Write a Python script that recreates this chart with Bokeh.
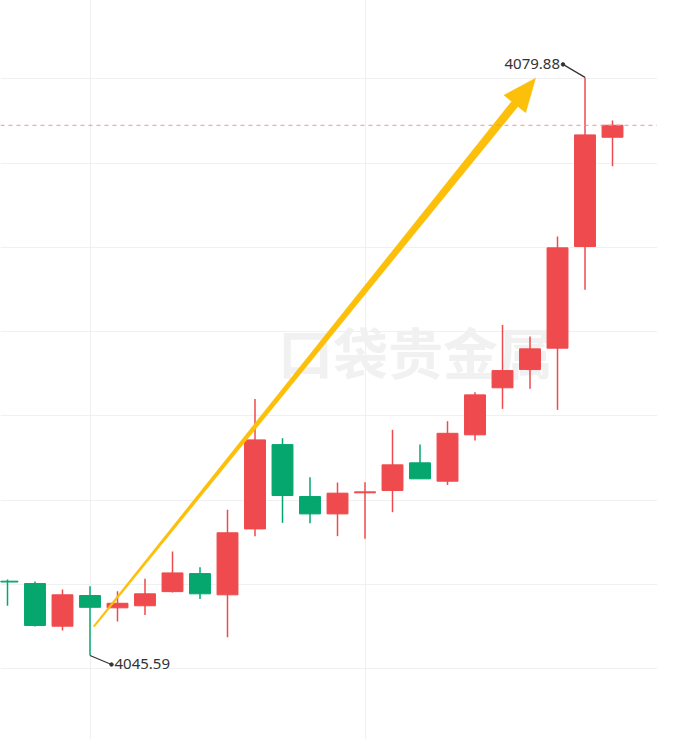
import math
from bokeh.plotting import figure
from bokeh.models import Range1d, FixedTicker, Span, ColumnDataSource
from bokeh.core.properties import value
from bokeh.embed import file_html
from bokeh.resources import INLINE

# ---- data ----
opens = [4050.00, 4049.86, 4047.33, 4049.15, 4048.42, 4048.54, 4049.38, 4050.45, 4049.19, 4053.10, 4058.10, 4055.02,
         4053.99, 4055.24, 4055.38, 4057.02, 4055.93, 4058.68, 4061.47, 4062.55, 4063.82, 4069.85, 4076.33]
closes = [4049.95, 4047.37, 4049.19, 4048.45, 4048.69, 4049.25, 4050.49, 4049.25, 4052.87, 4058.38, 4055.08, 4053.99,
          4055.22, 4055.30, 4056.90, 4056.07, 4058.77, 4061.05, 4062.49, 4063.78, 4069.77, 4076.47, 4077.04]
highs = [4050.10, 4049.98, 4049.50, 4049.70, 4049.40, 4050.14, 4051.76, 4050.83, 4054.23, 4060.81, 4058.48, 4056.16,
         4055.85, 4055.87, 4058.98, 4058.10, 4059.49, 4061.21, 4065.20, 4064.51, 4070.44, 4079.88, 4077.32]
lows = [4048.55, 4047.31, 4047.07, 4045.59, 4047.61, 4048.00, 4049.33, 4048.95, 4046.67, 4052.67, 4053.46, 4053.44,
        4052.67, 4052.51, 4054.09, 4056.07, 4055.71, 4058.34, 4060.22, 4061.41, 4060.16, 4067.28, 4074.61]
grid_levels = [4044.8, 4049.8, 4054.8, 4059.8, 4064.8, 4069.8, 4074.8, 4079.8]
vgrid_levels = [3, 13]
high_label = "4079.88"
low_label = "4045.59"
high_idx = 21
low_idx = 3
arrow_start = (3.14, 4047.31)
arrow_end = (19.2, 4079.83)
watermark = "口袋贵金属"
watermark_pos = (14.84, 4063.74)

RED = "#ef4a4d"
GREEN = "#05a76f"
YELLOW = "#fcbf0a"

W, H = 657, 739
x0, x1 = -0.2545, 23.636
y0, y1 = 4040.61, 4084.44
sx = W / (x1 - x0)   # px per x unit
sy = H / (y1 - y0)   # px per y unit

p = figure(width=W, height=H, x_range=Range1d(x0, x1), y_range=Range1d(y0, y1),
           output_backend="svg", toolbar_location=None, min_border=0)
p.xaxis.visible = False
p.yaxis.visible = False
p.outline_line_color = None
p.background_fill_color = "white"
p.border_fill_color = "white"
p.ygrid.ticker = FixedTicker(ticks=grid_levels)
p.xgrid.ticker = FixedTicker(ticks=vgrid_levels)
p.ygrid.grid_line_color = "#f0f0f0"
p.xgrid.grid_line_color = "#f0f0f0"
p.ygrid.grid_line_width = 1
p.xgrid.grid_line_width = 1

# watermark
p.text(x=[watermark_pos[0]], y=[watermark_pos[1]], text=[watermark],
       text_font=value("Noto Sans CJK SC"), text_font_size="55px", text_font_style="bold",
       text_color="#f1f1f1", text_align="center", text_baseline="middle")

# candles
idx = list(range(len(opens)))
colors = [RED if c >= o else GREEN for o, c in zip(opens, closes)]
src = ColumnDataSource(dict(x=idx, o=opens, c=closes, h=highs, l=lows,
                            top=[max(o, c) for o, c in zip(opens, closes)],
                            bot=[min(o, c) for o, c in zip(opens, closes)],
                            color=colors))
p.segment(x0="x", y0="h", x1="x", y1="l", color="color", line_width=1.5, source=src)
p.vbar(x="x", top="top", bottom="bot", width=0.76, fill_color="color", line_color="color",
       line_width=1, source=src)

# last price dashed line
p.add_layout(Span(location=closes[-1], dimension="width", line_color="#ef8f8c",
                  line_dash="4 4", line_width=1))

# tapered arrow, computed in pixel space then converted back to data
ax, ay = arrow_start[0] * sx, arrow_start[1] * sy
bx, by = arrow_end[0] * sx, arrow_end[1] * sy
L = math.hypot(bx - ax, by - ay)
ux, uy = (bx - ax) / L, (by - ay) / L
nx, ny = -uy, ux
head_len, head_w, w_start, w_end = 33, 28, 1.6, 8.0
mx, my = bx - ux * head_len, by - uy * head_len
pts = [
    (ax + nx * w_start / 2, ay + ny * w_start / 2),
    (mx + nx * w_end / 2, my + ny * w_end / 2),
    (mx + nx * head_w / 2, my + ny * head_w / 2),
    (bx, by),
    (mx - nx * head_w / 2, my - ny * head_w / 2),
    (mx - nx * w_end / 2, my - ny * w_end / 2),
    (ax - nx * w_start / 2, ay - ny * w_start / 2),
]
p.patch(x=[q[0] / sx for q in pts], y=[q[1] / sy for q in pts], fill_color=YELLOW,
        line_color=YELLOW, line_width=0.5)

# high / low labels with leader lines
hx, hy = high_idx, highs[high_idx]
hdx, hdy = hx - 22 / sx, hy + 13 / sy
lx, ly = low_idx, lows[low_idx]
ldx, ldy = lx + 21.5 / sx, ly - 9 / sy
p.segment(x0=[hx, lx], y0=[hy, ly], x1=[hdx, ldx], y1=[hdy, ldy], line_color="#333333", line_width=1.2)
p.scatter(x=[hdx, ldx], y=[hdy, ldy], size=3.5, color="#333333")
p.text(x=[hdx], y=[hdy], text=[high_label], x_offset=-3, text_align="right", text_baseline="middle",
       text_font=value("Noto Sans"), text_font_size="15px", text_color="#333333")
p.text(x=[ldx], y=[ldy], text=[low_label], x_offset=3, y_offset=-1, text_align="left", text_baseline="middle",
       text_font=value("Noto Sans"), text_font_size="15px", text_color="#333333")

open("out.html", "w").write(file_html(p, INLINE))
